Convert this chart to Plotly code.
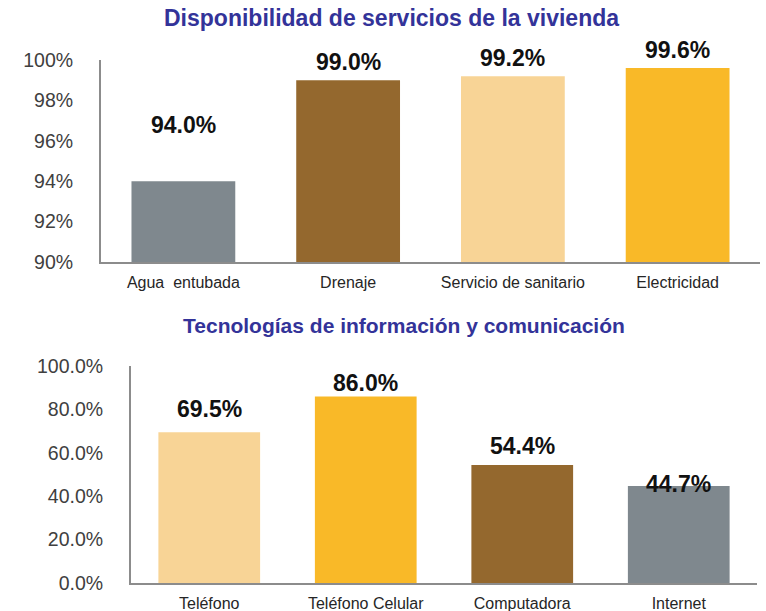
import plotly.graph_objects as go

# Data
serv_cats = ["Agua  entubada", "Drenaje", "Servicio de sanitario", "Electricidad"]
serv_vals = [94.0, 99.0, 99.2, 99.6]
tic_cats = ["Teléfono", "Teléfono Celular", "Computadora", "Internet"]
tic_vals = [69.5, 86.0, 54.4, 44.7]
serv_ticks = [90, 92, 94, 96, 98, 100]
tic_ticks = [0, 20, 40, 60, 80, 100]
title_top = "Disponibilidad de servicios de la vivienda"
title_bottom = "Tecnologías de información y comunicación"

# Styles
GRAY, BROWN, PEACH, GOLD = "#7F888E", "#94682E", "#F8D496", "#F9B928"
serv_colors = [GRAY, BROWN, PEACH, GOLD]
tic_colors = [PEACH, GOLD, BROWN, GRAY]
serv_shift = [56, 18, 18, 18]
tic_shift = [23, 13, 19, 2]

TICKFONT = dict(family="Liberation Sans, Arial", size=19.5, color="#404040")
CATFONT = dict(family="Liberation Sans, Arial", size=16, color="#262626")
LABELFONT = dict(family="Liberation Sans, Arial", size=23, color="#111111")

fig = go.Figure()
fig.add_trace(go.Bar(x=serv_cats, y=serv_vals, marker=dict(color=serv_colors, line=dict(width=0)),
                     width=0.63, xaxis="x", yaxis="y", showlegend=False, hoverinfo="x+y"))
fig.add_trace(go.Bar(x=tic_cats, y=tic_vals, marker=dict(color=tic_colors, line=dict(width=0)),
                     width=0.65, xaxis="x2", yaxis="y2", showlegend=False, hoverinfo="x+y"))

annotations = []
for c, v, s in zip(serv_cats, serv_vals, serv_shift):
    annotations.append(dict(x=c, y=v, xref="x", yref="y", text=f"<b>{v:.1f}%</b>", showarrow=False,
                            yshift=s, font=LABELFONT))
for c, v, s in zip(tic_cats, tic_vals, tic_shift):
    annotations.append(dict(x=c, y=v, xref="x2", yref="y2", text=f"<b>{v:.1f}%</b>", showarrow=False,
                            yshift=s, font=LABELFONT))
annotations.append(dict(x=391 / 766, y=1 - 18 / 611, xref="paper", yref="paper", text=f"<b>{title_top}</b>",
                        showarrow=False, font=dict(family="Liberation Sans, Arial", size=23, color="#333399"),
                        xanchor="center", yanchor="middle"))
annotations.append(dict(x=404 / 766, y=1 - 325 / 611, xref="paper", yref="paper", text=f"<b>{title_bottom}</b>",
                        showarrow=False, font=dict(family="Liberation Sans, Arial", size=21, color="#333399"),
                        xanchor="center", yanchor="middle"))

axis_line = dict(showline=True, linecolor="#8C8C8C", linewidth=2, showgrid=False, zeroline=False,
                 automargin=False, fixedrange=True)

fig.update_layout(
    width=766, height=611,
    margin=dict(l=0, r=0, t=0, b=0, pad=0, autoexpand=False),
    paper_bgcolor="white", plot_bgcolor="white",
    annotations=annotations,
    xaxis=dict(domain=[101 / 766, 760 / 766], anchor="y", tickfont=CATFONT, ticks="outside",
               ticklen=5, tickcolor="rgba(0,0,0,0)", **axis_line),
    yaxis=dict(domain=[1 - 262 / 611, 1 - 60 / 611], anchor="x", range=[90, 100], tickvals=serv_ticks,
               ticktext=[f"{t}%" for t in serv_ticks], tickfont=TICKFONT, ticks="outside", ticklen=22,
               tickcolor="rgba(0,0,0,0)", **axis_line),
    xaxis2=dict(domain=[131 / 766, 757 / 766], anchor="y2", tickfont=CATFONT, ticks="outside",
                ticklen=5, tickcolor="rgba(0,0,0,0)", **axis_line),
    yaxis2=dict(domain=[1 - 583 / 611, 1 - 366 / 611], anchor="x2", range=[0, 100], tickvals=tic_ticks,
                ticktext=[f"{t:.1f}%" for t in tic_ticks], tickfont=TICKFONT, ticks="outside", ticklen=22,
                tickcolor="rgba(0,0,0,0)", **axis_line),
)

fig.write_html("out.html", config={"displayModeBar": False},
               post_script="document.body.style.margin='0';document.body.style.overflow='hidden';")
